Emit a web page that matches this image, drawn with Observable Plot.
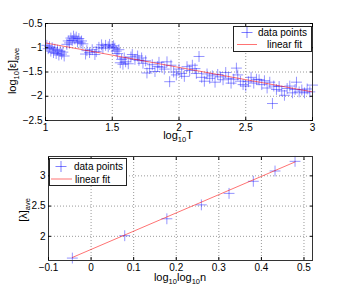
<!DOCTYPE html>
<html>
<head>
<meta charset="utf-8">
<script src="https://cdn.jsdelivr.net/npm/d3@7"></script>
<script src="https://cdn.jsdelivr.net/npm/@observablehq/plot@0.6"></script>
<style>
  html, body { margin: 0; padding: 0; background: #fff; }
  #chart { width: 345px; height: 296px; }
  #chart svg { display: block; }
</style>
</head>
<body>
<div id="chart"></div>
<script>
// ---------- Top panel data ----------
const topXTicks = [1, 1.5, 2, 2.5, 3];
const topYTicks = [-0.5, -1, -1.5, -2, -2.5];
const topX = [1.01,1.02,1.03,1.04,1.05,1.06,1.07,1.08,1.09,1.10,1.11,1.12,1.13,1.14,1.16,1.17,1.18,1.19,1.20,1.21,1.22,1.23,1.24,1.25,1.26,1.27,1.28,1.30,1.31,1.33,1.35,1.37,1.38,1.40,1.42,1.43,1.45,1.47,1.48,1.50,1.51,1.52,1.53,1.54,1.55,1.56,1.57,1.58,1.59,1.60,1.62,1.64,1.65,1.67,1.69,1.70,1.72,1.73,1.75,1.76,1.78,1.80,1.82,1.84,1.85,1.87,1.89,1.91,1.93,1.94,1.96,1.98,2.00,2.02,2.04,2.06,2.08,2.10,2.12,2.13,2.15,2.17,2.19,2.21,2.23,2.25,2.27,2.29,2.31,2.33,2.35,2.37,2.39,2.41,2.43,2.44,2.46,2.48,2.50,2.52,2.54,2.56,2.58,2.60,2.62,2.64,2.66,2.68,2.70,2.71,2.73,2.75,2.77,2.79,2.81,2.83,2.85,2.87,2.88,2.90,2.92,2.94,2.96,2.98,3.00];
const topY = [-0.95,-1.02,-0.98,-1.07,-1.00,-1.10,-1.03,-1.12,-1.05,-1.15,-1.07,-1.13,-1.09,-1.17,-0.93,-0.86,-0.90,-0.80,-0.85,-0.76,-0.82,-0.78,-0.88,-0.81,-0.90,-0.86,-0.92,-1.13,-1.06,-1.10,-1.04,-1.14,-1.08,-0.99,-0.94,-1.01,-0.95,-0.98,-0.93,-0.99,-0.96,-1.01,-1.07,-1.12,-1.04,-1.31,-1.24,-1.34,-1.21,-1.29,-1.33,-1.19,-1.14,-1.24,-1.17,-1.26,-1.21,-1.32,-1.27,-1.52,-1.43,-1.35,-1.49,-1.39,-1.30,-1.40,-1.44,-1.29,-1.70,-1.36,-1.50,-1.56,-1.44,-1.53,-1.59,-1.39,-1.47,-1.36,-1.43,-1.53,-1.18,-1.61,-1.69,-1.54,-1.63,-1.58,-1.71,-1.55,-1.60,-1.66,-1.51,-1.63,-1.73,-1.65,-1.42,-1.56,-1.69,-1.76,-1.79,-1.70,-1.61,-1.73,-1.65,-1.66,-1.76,-1.68,-1.83,-1.71,-2.15,-1.79,-1.86,-1.80,-1.89,-1.98,-1.84,-1.79,-1.93,-1.86,-1.71,-1.91,-1.87,-1.93,-1.85,-1.91,-1.77];
const topFitX = [1, 3];
const topFitY = [-0.90, -1.91];

// ---------- Bottom panel data ----------
const botXTicks = [-0.1, 0, 0.1, 0.2, 0.3, 0.4, 0.5];
const botYTicks = [2, 2.5, 3];
const botX = [-0.044, 0.079, 0.178, 0.259, 0.324, 0.381, 0.432, 0.479];
const botY = [1.64, 2.01, 2.29, 2.52, 2.71, 2.91, 3.08, 3.24];
const botFitX = [-0.044, 0.479];
const botFitY = [1.65, 3.23];

const legendLabels = ["data points", "linear fit"];

const FONT = "'Liberation Sans', Arial, Helvetica, sans-serif";
const PTS = "#0000ff";
const FIT = "#ff0000";

function panel({width, height, ml, mr, mt, mb, xDomain, yDomain, xTicks, yTicks, pts, fit, xFmt, yFmt}) {
  return Plot.plot({
    width, height,
    marginLeft: ml, marginRight: mr, marginTop: mt, marginBottom: mb,
    style: {fontFamily: FONT, fontSize: "10px", color: "#000", background: "transparent"},
    x: {domain: xDomain, ticks: xTicks, label: null},
    y: {domain: yDomain, ticks: yTicks, label: null},
    marks: [
      Plot.gridX(xTicks, {stroke: "#9a9a9a", strokeOpacity: 1, strokeDasharray: "1,2"}),
      Plot.gridY(yTicks, {stroke: "#9a9a9a", strokeOpacity: 1, strokeDasharray: "1,2"}),
      Plot.dot(pts, {x: "x", y: "y", symbol: "plus", r: 3.6, stroke: PTS, strokeOpacity: 0.42, strokeWidth: 1}),
      Plot.line(fit, {x: "x", y: "y", stroke: FIT, strokeOpacity: 0.55, strokeWidth: 1}),
      Plot.frame({stroke: "#333", strokeWidth: 1}),
      Plot.axisX(xTicks, {anchor: "bottom", tickSize: -3, tickPadding: 6, tickFormat: xFmt, label: null}),
      Plot.axisX(xTicks, {anchor: "top", tickSize: -3, tickFormat: () => "", label: null}),
      Plot.axisY(yTicks, {anchor: "left", tickSize: -3, tickPadding: 6, tickFormat: yFmt, label: null}),
      Plot.axisY(yTicks, {anchor: "right", tickSize: -3, tickFormat: () => "", label: null})
    ]
  });
}

const fmt = d => (d < 0 ? "\u2212" : "") + Math.abs(d);

const topPts = topX.map((x, i) => ({x, y: topY[i]}));
const topFit = topFitX.map((x, i) => ({x, y: topFitY[i]}));
const botPts = botX.map((x, i) => ({x, y: botY[i]}));
const botFit = botFitX.map((x, i) => ({x, y: botFitY[i]}));

const topSvg = panel({width: 345, height: 148, ml: 45, mr: 33, mt: 23, mb: 28,
  xDomain: [1, 3], yDomain: [-2.5, -0.5], xTicks: topXTicks, yTicks: topYTicks,
  pts: topPts, fit: topFit, xFmt: fmt, yFmt: fmt});
const botSvg = panel({width: 345, height: 148, ml: 48, mr: 33, mt: 8, mb: 36,
  xDomain: [-0.1, 0.52], yDomain: [1.6, 3.32], xTicks: botXTicks, yTicks: botYTicks,
  pts: botPts, fit: botFit, xFmt: fmt, yFmt: fmt});

const chart = document.getElementById("chart");
chart.appendChild(topSvg);
chart.appendChild(botSvg);

function legend(svg, {x, y, w, h, mx, my1, lx1, lx2, ly2, tx1, tx2, ty1, ty2}) {
  const g = d3.select(svg).append("g").attr("font-family", FONT).attr("font-size", 10)
    .attr("text-anchor", "start");
  g.append("rect").attr("x", x).attr("y", y).attr("width", w).attr("height", h)
    .attr("fill", "#fff").attr("stroke", "#222").attr("stroke-width", 1);
  g.append("path").attr("d", `M${mx - 5.5},${my1}H${mx + 5.5}M${mx},${my1 - 5.5}V${my1 + 5.5}`)
    .attr("stroke", PTS).attr("stroke-opacity", 0.5).attr("fill", "none");
  g.append("line").attr("x1", lx1).attr("x2", lx2).attr("y1", ly2).attr("y2", ly2)
    .attr("stroke", FIT).attr("stroke-opacity", 0.55);
  g.append("text").attr("x", tx1).attr("y", ty1).text(legendLabels[0]);
  g.append("text").attr("x", tx2).attr("y", ty2).text(legendLabels[1]);
}

legend(topSvg, {x: 233.5, y: 26.5, w: 78, h: 25, mx: 247, my1: 32.5, lx1: 237, lx2: 257, ly2: 44.5,
  tx1: 258, tx2: 267, ty1: 36, ty2: 48});
legend(botSvg, {x: 49.5, y: 10.5, w: 77, h: 27, mx: 61, my1: 18.5, lx1: 51, lx2: 72, ly2: 31,
  tx1: 74, tx2: 75, ty1: 22, ty2: 34.5});

function label(svg, {x, y, rotate, parts}) {
  const t = d3.select(svg).append("text")
    .attr("font-family", FONT).attr("font-size", 11).attr("fill", "#000")
    .attr("text-anchor", "middle")
    .attr("transform", `translate(${x},${y})` + (rotate ? " rotate(-90)" : ""));
  let shift = 0;
  for (const [s, sub] of parts) {
    const want = sub ? 3 : 0;
    const sp = t.append("tspan").attr("dy", want - shift).text(s);
    if (sub) sp.attr("font-size", 7.5);
    shift = want;
  }
}

label(topSvg, {x: 178, y: 139, parts: [["log", false], ["10", true], ["T", false]]});
label(topSvg, {x: 16, y: 71, rotate: true, parts: [["log", false], ["10", true], ["[\u03b5]", false], ["ave", true]]});
label(botSvg, {x: 180, y: 133, parts: [["log", false], ["10", true], ["log", false], ["10", true], ["n", false]]});
label(botSvg, {x: 27, y: 62, rotate: true, parts: [["[\u03bb]", false], ["ave", true]]});
</script>
</body>
</html>
